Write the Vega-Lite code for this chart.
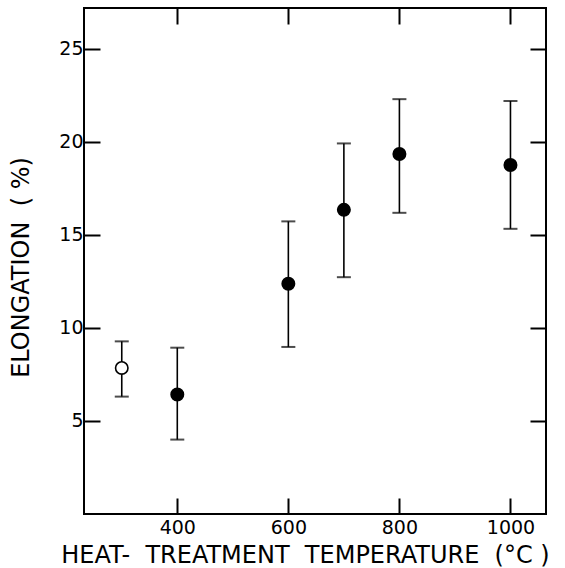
{
  "$schema": "https://vega.github.io/schema/vega-lite/v6.json",
  "autosize": "none",
  "width": 462,
  "height": 506,
  "padding": {"left": 84, "top": 8, "right": 19, "bottom": 54},
  "background": "white",
  "config": {
    "view": {"stroke": "black", "strokeWidth": 2},
    "font": "DejaVu Sans",
    "axis": {
      "domain": false,
      "grid": false,
      "tickColor": "black",
      "tickWidth": 2,
      "tickSize": 16,
      "offset": -16,
      "labelFont": "DejaVu Sans",
      "labelFontSize": 19,
      "labelColor": "black",
      "titleFont": "DejaVu Sans",
      "titleFontSize": 24,
      "titleFontWeight": "normal",
      "titleColor": "black"
    }
  },
  "data": {
    "values": [
      {"temp": 300, "elong": 7.85, "lo": 6.31, "hi": 9.28, "kind": "open"},
      {"temp": 400, "elong": 6.42, "lo": 4.0, "hi": 8.94, "kind": "filled"},
      {"temp": 600, "elong": 12.38, "lo": 8.98, "hi": 15.73, "kind": "filled"},
      {"temp": 700, "elong": 16.35, "lo": 12.73, "hi": 19.92, "kind": "filled"},
      {"temp": 800, "elong": 19.35, "lo": 16.19, "hi": 22.3, "kind": "filled"},
      {"temp": 1000, "elong": 18.76, "lo": 15.33, "hi": 22.2, "kind": "filled"}
    ]
  },
  "resolve": {"axis": {"x": "independent", "y": "independent"}},
  "layer": [
    {
      "mark": {"type": "errorbar", "ticks": {"thickness": 2, "size": 14, "color": "black"}, "rule": {"strokeWidth": 1.6, "color": "black"}},
      "encoding": {
        "x": {
          "field": "temp", "type": "quantitative",
          "scale": {"domain": [232, 1064], "nice": false, "zero": false},
          "axis": {"orient": "bottom", "values": [400, 600, 800, 1000], "format": "d", "labelPadding": 4, "title": "HEAT-\u00a0 TREATMENT\u00a0 TEMPERATURE\u00a0 (°C\u00a0)", "titleX": 221, "titleY": 64, "titleBaseline": "alphabetic", "titleAnchor": "middle"}
        },
        "y": {
          "field": "lo", "type": "quantitative",
          "scale": {"domain": [0, 27.2], "nice": false, "zero": false},
          "axis": {"orient": "left", "values": [5, 10, 15, 20, 25], "labelPadding": 1, "title": "ELONGATION\u00a0 (\u00a0%)", "titleX": -72, "titleY": 259, "titleBaseline": "alphabetic", "titleAnchor": "middle", "titleAngle": -90}
        },
        "y2": {"field": "hi"}
      }
    },
    {
      "mark": {"type": "point", "filled": true, "size": 154, "stroke": "black", "strokeWidth": 1.6, "opacity": 1},
      "encoding": {
        "x": {"field": "temp", "type": "quantitative", "axis": {"orient": "top", "values": [400, 600, 800, 1000], "labels": false, "title": null}},
        "y": {"field": "elong", "type": "quantitative", "axis": {"orient": "right", "values": [5, 10, 15, 20, 25], "labels": false, "title": null}},
        "fill": {"field": "kind", "type": "nominal", "scale": {"domain": ["filled", "open"], "range": ["black", "white"]}, "legend": null}
      }
    }
  ]
}
